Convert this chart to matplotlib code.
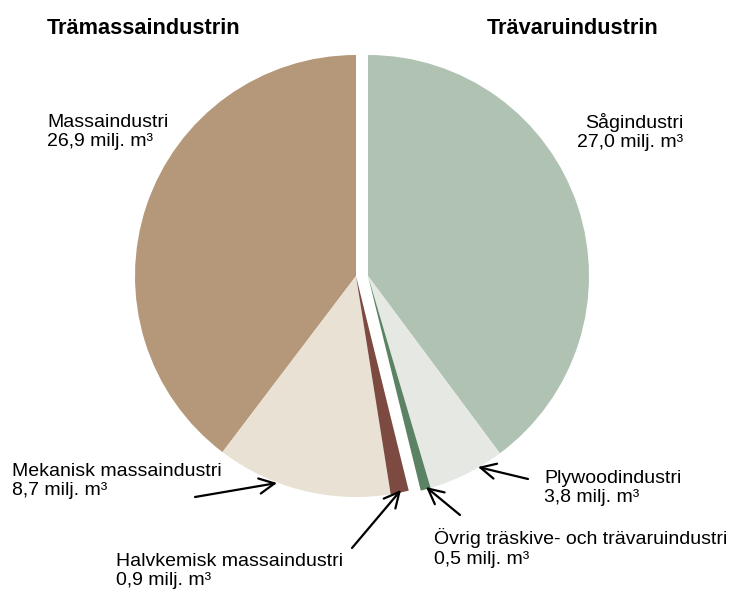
import matplotlib.pyplot as plt
from matplotlib import font_manager

# data (milj. m3)
right_names = ['Sågindustri', 'Plywoodindustri', 'Övrig träskive- och trävaruindustri']
right_vals = [27.0, 3.8, 0.5]
right_cols = ['#b0c3b3', '#e6e9e3', '#5b8262']
left_names = ['Massaindustri', 'Mekanisk massaindustri', 'Halvkemisk massaindustri']
left_vals = [26.9, 8.7, 0.9]
left_cols = ['#b5987a', '#e9e1d3', '#7c4a41']
total = sum(right_vals) + sum(left_vals)

fams = [f.name for f in font_manager.fontManager.ttflist]
fam = 'Liberation Sans Narrow' if 'Liberation Sans Narrow' in fams else 'Liberation Sans'
plt.rcParams['font.family'] = [fam, 'DejaVu Sans']

W, H = 731, 597
fig = plt.figure(figsize=(W / 100, H / 100), dpi=100)
ax = fig.add_axes([0, 0, 1, 1])
ax.set_xlim(0, W)
ax.set_ylim(0, H)
ax.set_aspect('equal')
ax.axis('off')

def Y(y):
    return H - y

R = 221
ax.pie([v / total for v in right_vals], colors=right_cols, startangle=90,
       counterclock=False, normalize=False, center=(368, Y(276)), radius=R,
       wedgeprops=dict(linewidth=0))
ax.pie([v / total for v in left_vals], colors=left_cols, startangle=90,
       counterclock=True, normalize=False, center=(356, Y(276)), radius=R,
       wedgeprops=dict(linewidth=0))
ax.set_xlim(0, W)
ax.set_ylim(0, H)

def lab(name, val):
    return f"{name}\n{val:.1f}".replace('.', ',') + " milj. m³"

fs = 14
ls = 1.22
ax.text(47, Y(28), 'Trämassaindustrin', fontsize=15.7, fontweight='bold', va='center', ha='left')
ax.text(487, Y(28), 'Trävaruindustrin', fontsize=15.7, fontweight='bold', va='center', ha='left')

ax.text(47, Y(132), lab(left_names[0], left_vals[0]), fontsize=fs, va='center', ha='left', linespacing=ls)
ax.text(683, Y(132), lab(right_names[0], right_vals[0]), fontsize=fs, va='center', ha='right',
        multialignment='right', linespacing=ls)
ax.text(12, Y(481), lab(left_names[1], left_vals[1]), fontsize=fs, va='center', ha='left', linespacing=ls)
ax.text(116, Y(571), lab(left_names[2], left_vals[2]), fontsize=fs, va='center', ha='left', linespacing=ls)
ax.text(544, Y(488), lab(right_names[1], right_vals[1]), fontsize=fs, va='center', ha='left', linespacing=ls)
ax.text(434, Y(548), lab(right_names[2], right_vals[2]), fontsize=fs, va='center', ha='left', linespacing=ls)

arrows = [((195, 497), (277, 483)),
          ((352, 548), (401, 490)),
          ((460, 515), (426, 487)),
          ((528, 479), (478, 467))]
for (x0, y0), (x1, y1) in arrows:
    ax.annotate('', xy=(x1, Y(y1)), xytext=(x0, Y(y0)),
                arrowprops=dict(arrowstyle='->,head_length=0.5,head_width=0.25', lw=1.6,
                                color='black', mutation_scale=22, shrinkA=0, shrinkB=0))

fig.savefig('out.png', dpi=100)
